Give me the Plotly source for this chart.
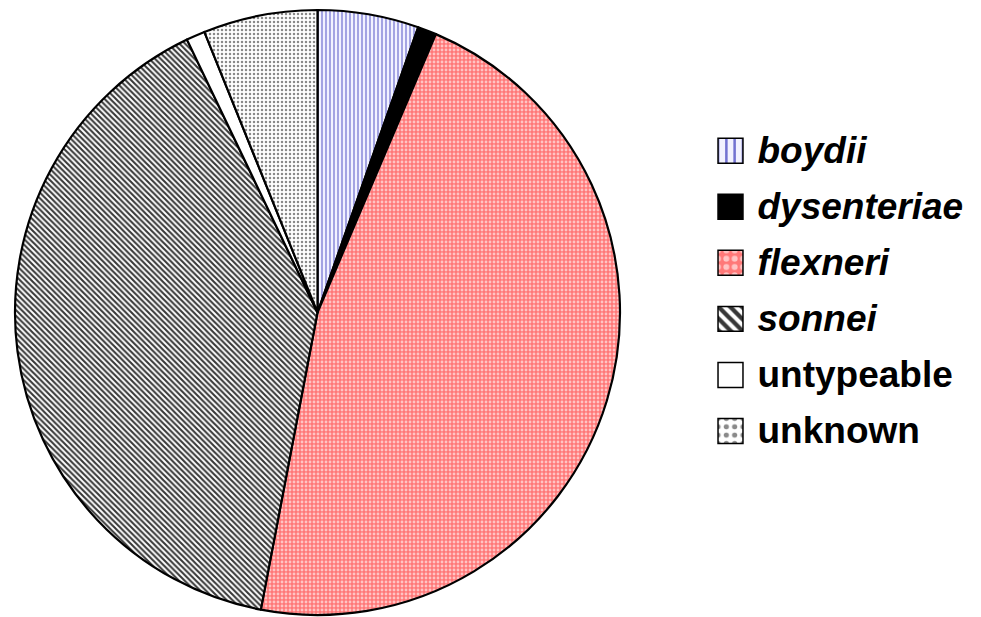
import plotly.graph_objects as go

# Shigella species share (%)
species = ["boydii", "dysenteriae", "flexneri", "sonnei", "untypeable", "unknown"]
share = [5.4, 1.0, 46.6, 39.9, 1.0, 6.1]
italic = [True, True, True, True, False, False]

# fill styles per slice
bg_colors = ["#f2f2ff", "#000000", "#ff7878", "#ffffff", "#ffffff", "#ffffff"]
fg_colors = ["#6f6fd0", "#000000", "#ffc4c4", "#383838", "#ffffff", "#8a8a8a"]
shapes = ["|", "", ".", "\\", "", "."]
solidity = [0.3, 0.5, 0.4, 0.52, 0.5, 0.3]

W, H = 981, 617
LEGEND_FS = 20.4     # sets legend row pitch (two text rows per entry)
TEXT_FS = 37         # visible label size


def legend_label(name, it):
    txt = f"<i>{name}</i>" if it else name
    return f"<span style='font-size:{TEXT_FS}px'>{txt}</span><br> "


labels = [legend_label(n, i) for n, i in zip(species, italic)]

fig = go.Figure(
    go.Pie(
        labels=labels,
        values=share,
        sort=False,
        direction="clockwise",
        rotation=0,
        textinfo="none",
        hoverinfo="percent",
        marker=dict(
            colors=bg_colors,
            line=dict(color="#000000", width=2.2),
            pattern=dict(
                shape=shapes,
                bgcolor=bg_colors,
                fgcolor=fg_colors,
                size=4,
                solidity=solidity,
                fillmode="replace",
            ),
        ),
        domain=dict(x=[13 / W, 622 / W], y=[1 - 615 / H, 1 - 10 / H]),
    )
)

fig.update_layout(
    width=W,
    height=H,
    margin=dict(l=0, r=0, t=0, b=0),
    paper_bgcolor="#ffffff",
    plot_bgcolor="#ffffff",
    showlegend=True,
    legend=dict(
        x=710.5 / W,
        xanchor="left",
        y=1 - 135 / H,
        yanchor="top",
        valign="top",
        itemwidth=37,
        font=dict(family="Liberation Sans, Arial, sans-serif", size=LEGEND_FS,
                  color="#000000", weight="bold"),
        bgcolor="rgba(0,0,0,0)",
        borderwidth=0,
    ),
)

# enlarge the legend swatches to ~25px squares
swatch_js = """
var gd = document.getElementsByClassName('plotly-graph-div')[0];
function growSwatches() {
  gd.querySelectorAll('path.legendpie').forEach(function (p) {
    p.setAttribute('transform', 'translate(20,-4) scale(2.08)');
    p.style.vectorEffect = 'non-scaling-stroke';
    p.style.strokeWidth = '1.5px';
    p.style.stroke = '#000000';
  });
}
growSwatches();
gd.on('plotly_afterplot', growSwatches);
"""

fig.write_html("out.html", post_script=swatch_js)
